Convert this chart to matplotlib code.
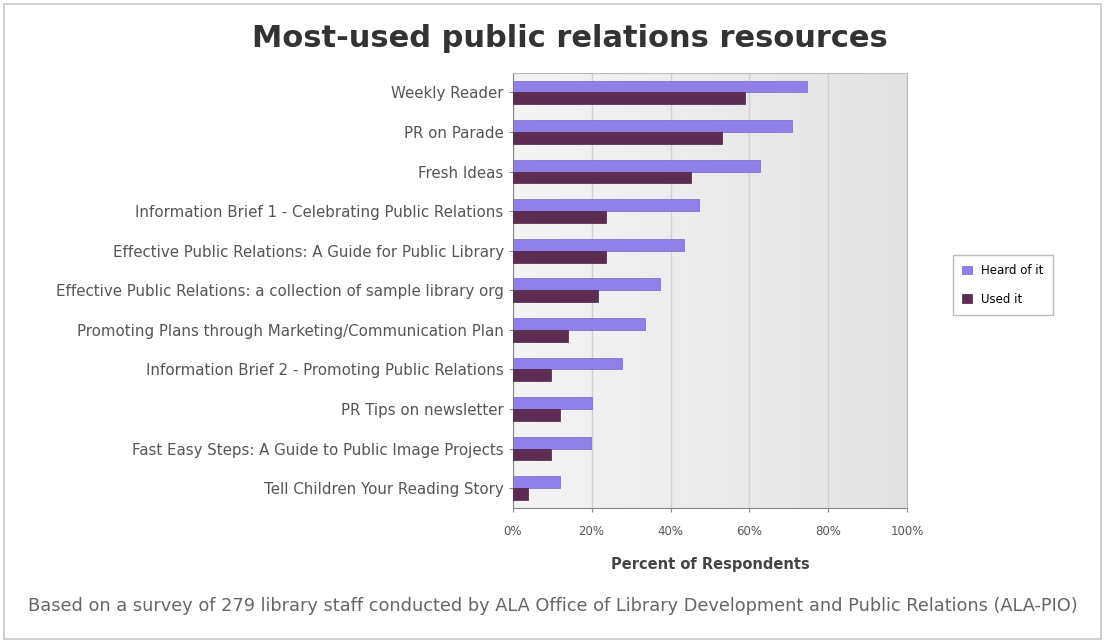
import matplotlib
matplotlib.use("Agg")
import matplotlib.pyplot as plt
import numpy as np
from matplotlib.patches import Rectangle

categories = [
    "Weekly Reader",
    "PR on Parade",
    "Fresh Ideas",
    "Information Brief 1 - Celebrating Public Relations",
    "Effective Public Relations: A Guide for Public Library",
    "Effective Public Relations: a collection of sample library org",
    "Promoting Plans through Marketing/Communication Plan",
    "Information Brief 2 - Promoting Public Relations",
    "PR Tips on newsletter",
    "Fast Easy Steps: A Guide to Public Image Projects",
    "Tell Children Your Reading Story",
]
heard_of_it = [74.6, 70.8, 62.7, 47.2, 43.3, 37.3, 33.5, 27.6, 20.0, 19.8, 11.9]
used_it = [58.9, 53.0, 45.2, 23.6, 23.6, 21.6, 14.0, 9.8, 11.9, 9.8, 3.9]
series_names = ["Heard of it", "Used it"]
xticks = [0, 20, 40, 60, 80, 100]
xtick_labels = ["0%", "20%", "40%", "60%", "80%", "100%"]

fig = plt.figure(figsize=(11.05, 6.43), dpi=100)
fig.patch.set_facecolor("white")
fig.patches.append(Rectangle((0.004, 0.006), 0.992, 0.988, transform=fig.transFigure,
                             fill=False, edgecolor="#c8c8c8", linewidth=1.2))

ax = fig.add_axes([0.464, 0.21, 0.357, 0.677])
ax.set_facecolor("#ececec")
grad = np.linspace(0, 1, 256).reshape(1, -1)
ax.imshow(grad, extent=[0, 100, -0.5, len(categories) - 0.5], aspect="auto",
          cmap=matplotlib.colors.LinearSegmentedColormap.from_list("g", ["#f4f4f4", "#e2e2e2"]),
          zorder=0)

y = np.arange(len(categories))
h = 0.3
ax.barh(y - h / 2, heard_of_it, height=h, color="#8e80e6", edgecolor="#7466c8",
        linewidth=0.5, label=series_names[0], zorder=3)
ax.barh(y + h / 2, used_it, height=h, color="#5c2c52", edgecolor="#4a2242",
        linewidth=0.5, label=series_names[1], zorder=3)

ax.set_xlim(0, 100)
ax.set_ylim(len(categories) - 0.5, -0.5)
ax.set_yticks(y)
ax.set_yticklabels(categories, fontsize=10.8, color="#555555")
ax.set_xticks(xticks)
ax.set_xticklabels(xtick_labels, fontsize=8.5, color="#555555")
ax.xaxis.grid(True, color="#d0d0d0", linewidth=1.0, zorder=1)
ax.set_axisbelow(True)
for s in ["top", "right"]:
    ax.spines[s].set_color("#bbbbbb")
ax.spines["left"].set_color("#888888")
ax.spines["bottom"].set_color("#888888")
ax.tick_params(axis="both", length=3, color="#888888")
ax.tick_params(axis="x", pad=9)
ax.set_xlabel("Percent of Respondents", fontsize=10.5, fontweight="bold", color="#444444", labelpad=14)

fig.text(0.516, 0.94, "Most-used public relations resources", ha="center", va="center",
         fontsize=22, fontweight="bold", color="#333333")

leg = fig.legend(loc="center left", bbox_to_anchor=(0.857, 0.557), fontsize=8.5,
                 frameon=True, fancybox=False, edgecolor="#aaaaaa", handlelength=0.8,
                 labelspacing=1.3, borderpad=0.8)

fig.text(0.5, 0.058,
         "Based on a survey of 279 library staff conducted by ALA Office of Library Development and Public Relations (ALA-PIO)",
         ha="center", va="center", fontsize=12.8, color="#666666")

fig.savefig("out.png", dpi=100)
